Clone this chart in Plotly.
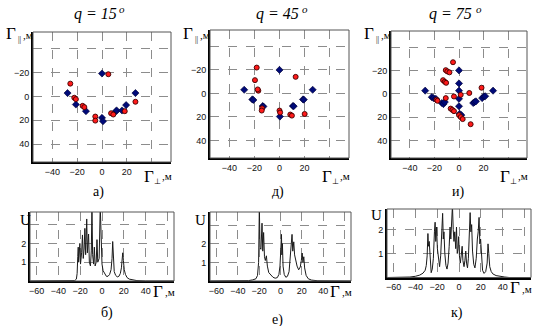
import plotly.graph_objects as go

# ---------------- data ----------------
title_main = ["q = 15", "q = 45", "q = 75"]
title_sup = "o"
top_letters = ["а)", "д)", "и)"]
bot_letters = ["б)", "е)", "к)"]

# panel a (q=15)
a_blue_x = [0, -27.7, -21, -12.9, 0, 0.8, 11.3, 11.8, 16.1, 19.4, 26.9]
a_blue_y = [-19.2, -2.8, 6.8, 12.4, 18, 20.8, 12.4, 11.8, 11.8, 7.3, -2.8]
a_red_x = [5.1, -25.5, -22.3, -21, -15.6, -14.2, -5.4, -5.4, 7.3, 9.1, 18.3, 26.9]
a_red_y = [-18.6, -10.7, 1.1, 2.3, 7.9, 9.0, 16.9, 20.3, 14.1, 15.2, 12.4, 4.5]

# panel d (q=45)
d_blue_x = [0, -28.2, -21.7, -20.9, -13.4, -12.9, 0.3, 10.7, 11.3, 18.8, 19.4, 26.5]
d_blue_y = [-20, -3.1, 5.1, 5.6, 10.7, 11.2, 19.7, 10.7, 10.9, 5.1, 5.3, -3.1]
d_red_x = [-18.2, -19.6, -16.9, -17.4, -13.9, -14.2, 0, 0.5, 8.6, 9.9, 12.9, 20.1]
d_red_y = [-22, -11.3, -2.3, -3.4, 12.7, 14.6, 14.6, 16.3, 18, 18.9, -14.1, 17.5]

# panel i (q=75)
i_blue_x = [0, 0, 0, 0, 0, -27.6, -22.2, -20.8, -18.9, -14, -12.7, -11.6,
            0.5, 1.9, 11.6, 12.7, 13.8, 18.9, 20.3, 21.4, 27.8]
i_blue_y = [-20.2, -9, -2.8, 4.2, 10.6, -2.8, 2.8, 3.6, 4.2, 7.8, 8.7, 7,
            17.1, 18.2, 7.8, 7, 6.4, 3.6, 2.2, 2, -2.8]
i_red_x = [-4.9, -10.8, -9.5, -7.8, -13, -11.6, -10.5, -4.1, -10.8, -18.4, -17.6,
           1.4, 8.4, 18.4, -6.8, -5.4, -4.1, 0, 1.4, 3, 9.5]
i_red_y = [-27.2, -20.4, -19.3, -18.5, -11.8, -10.4, -9.5, 2.2, 3.6, 5, 5.9,
           0.8, -0.8, -5.3, 12.6, 13.7, 14.8, 18.2, 19.9, 21.6, 26]

# spectrum б
b_x = [-66, -30, -25, -23.5, -22.8, -22.2, -21.8, -21.4, -20.8, -20.3, -19.7, -18.7,
       -17.9, -17.2, -16.4, -15.7, -15.0, -14.5, -14.0, -13.4, -12.8, -12.3, -11.6,
       -10.6, -9.8, -9.2, -8.6, -7.7, -7.0, -6.3, -5.3, -4.6, -3.9, -2.6, -1.6, -0.8,
       0, 1, 2.5, 4, 5.5, 7, 8.3, 9.2, 9.8, 10.4, 11.2, 12.5, 14, 15.5, 16.8, 17.8,
       18.5, 19.0, 19.6, 20.4, 21.5, 23, 25, 28, 32, 40, 66]
b_y = [0, 0, 0.02, 0.1, 0.4, 1.3, 1.8, 1.0, 1.4, 2.0, 0.9, 1.5,
       2.45, 1.2, 1.7, 2.8, 1.4, 2.0, 3.3, 1.5, 1.9, 2.5, 1.0,
       0.8, 1.6, 4.0, 1.4, 0.9, 1.8, 0.8, 1.0, 2.2, 1.0, 1.2, 4.0, 1.4,
       0.9, 0.55, 0.35, 0.25, 0.25, 0.35, 0.6, 1.2, 2.1, 1.0, 0.5, 0.3, 0.22, 0.25, 0.4, 0.7,
       1.1, 1.5, 1.1, 0.6, 0.35, 0.18, 0.1, 0.05, 0.02, 0, 0]

# spectrum е
e_x = [-66, -35, -30, -26, -23, -21.5, -20.5, -19.8, -19.2, -18.3, -17.3, -16.6, -15.8,
       -15.0, -14.2, -13.2, -12.3, -11, -9, -7, -5, -3, -1.5, -0.5, 0.3, 0.9, 1.3, 1.8,
       2.4, 3.5, 5, 6.5, 8, 9.2, 10.2, 10.8, 11.5, 12.4, 13.2, 14.3, 15.5, 17, 18.5,
       19.5, 20.3, 21, 21.8, 22.6, 24, 26, 29, 35, 66]
e_y = [0, 0, 0.02, 0.06, 0.12, 0.3, 1.0, 4.0, 1.8, 1.7, 3.1, 1.6, 2.6,
       1.3, 1.1, 1.35, 0.8, 0.45, 0.3, 0.2, 0.15, 0.18, 0.35, 0.8, 1.7, 2.5, 1.4, 2.0,
       0.8, 0.35, 0.2, 0.25, 0.5, 1.2, 2.0, 2.5, 1.6, 2.1, 1.4, 1.1, 0.8, 0.6, 0.75,
       1.1, 1.5, 1.0, 1.3, 0.7, 0.3, 0.12, 0.05, 0.01, 0]

# spectrum к
k_x = [-66, -50, -45, -40, -36, -33, -31, -30, -29.2, -28.5, -28, -27.3, -26.5, -25.5,
       -24.5, -23.5, -22.5, -21.9, -21.3, -20.6, -19.8, -18.6, -17.8, -16.8, -15.8, -15.0,
       -14.4, -13.8, -13.0, -12.0, -11.0, -10.0, -9, -8.2, -7.5, -6.8, -6.0, -5.3, -4.6,
       -3.9, -3.0, -2.3, -1.6, -0.9, -0.3, 0.4, 1.2, 2.0, 2.9, 3.6, 4.6, 5.4, 6.2, 6.9,
       7.8, 8.6, 9.5, 10.2, 10.9, 11.6, 12.4, 13.5, 14.6, 15.8, 16.8, 17.6, 18.4, 19.1,
       19.8, 20.6, 21.6, 23, 24.5, 25.8, 26.6, 27.3, 28.2, 29.5, 31, 34, 38, 42, 46, 66]
k_y = [0, 0, 0.02, 0.05, 0.1, 0.18, 0.3, 0.5, 0.9, 1.83, 1.3, 1.5, 0.6, 0.2,
       0.35, 0.8, 1.9, 2.3, 1.5, 2.1, 1.2, 0.6, 0.45, 0.9, 2.0, 2.67,
       1.6, 1.9, 1.0, 0.5, 0.35, 0.6, 1.3, 2.1, 1.6, 2.3, 3.0, 2.0, 1.5,
       1.9, 1.2, 2.1, 1.0, 1.2, 1.7, 0.9, 0.6, 0.9, 1.3, 0.7, 0.45, 0.7, 1.1, 0.6,
       0.4, 0.8, 1.8, 2.7, 1.9, 2.2, 1.1, 0.55, 0.4, 0.8, 1.6, 1.9, 2.5, 1.4,
       1.6, 0.7, 0.3, 0.17, 0.25, 0.6, 1.4, 1.0, 0.45, 0.25, 0.15, 0.08, 0.04, 0.02, 0, 0]

sc_grid = [-40, -20, 0, 20, 40]
sc_xlabels = [-40, -20, 0, 20]
sc_ylabels = [-20, 0, 20, 40]
sp_grid = [-60, -40, -20, 0, 20, 40, 60]
sp_xlabels = [-60, -40, -20, 0, 20, 40]
sp_ylabels = [1, 2]

# ---------------- layout geometry (pixels) ----------------
W, H = 535, 326
def px(x):
    return x / W
def py(y):
    return 1 - y / H

top_boxes = [(33, 32, 171, 162), (210, 30, 349, 158), (391, 31, 527, 158)]
bot_boxes = [(30, 212, 174, 281), (210, 212, 351, 281), (387, 209, 531, 277.5)]
bot_yr = [3.67, 3.7, 2.85]
title_cx = [95, 277.5, 450.5]
sup_cx = [122, 305, 479]
top_letter_cx = [98, 278, 458]
bot_letter_pos = [(106.7, 313), (277.7, 320), (456.7, 313)]
u_pos = [(25, 220), (200, 220), (376, 215)]

fig = go.Figure()
font_tick = dict(family="Liberation Sans, Arial", size=9, color="#111")
GRIDC = "#8c8c8c"
serif = "Liberation Serif, Times New Roman"

def grid_minor(vals):
    return dict(tickvals=vals, showgrid=True, gridcolor=GRIDC, griddash="dash",
                gridwidth=1, ticks="")

annotations = []
def txt(s, x, y, size, italic=False):
    f = dict(family=serif, size=size, color="black")
    if italic:
        f["style"] = "italic"
    annotations.append(dict(text=s, x=px(x), y=py(y), xref="paper", yref="paper",
                            xanchor="center", yanchor="middle", showarrow=False,
                            borderpad=0, font=f))

scatter_sets = [(a_blue_x, a_blue_y, a_red_x, a_red_y),
                (d_blue_x, d_blue_y, d_red_x, d_red_y),
                (i_blue_x, i_blue_y, i_red_x, i_red_y)]
spectra = [(b_x, b_y), (e_x, e_y), (k_x, k_y)]

layout = {}
shapes = []
for i in range(3):
    # top scatter
    n = 2 * i + 1
    xa, ya = (f"x{n}", f"y{n}") if n > 1 else ("x", "y")
    l, t, r, b = top_boxes[i]
    bx, by, rx, ry = scatter_sets[i]
    fig.add_trace(go.Scatter(x=bx, y=by, mode="markers", xaxis=xa, yaxis=ya,
                             marker=dict(symbol="diamond", size=5.5, color="#000a78",
                                         line=dict(color="#000030", width=0.6)),
                             showlegend=False))
    fig.add_trace(go.Scatter(x=rx, y=ry, mode="markers", xaxis=xa, yaxis=ya,
                             marker=dict(symbol="circle", size=5, color="#ff1a1a",
                                         line=dict(color="#400000", width=0.9)),
                             showlegend=False))
    layout[f"xaxis{n}" if n > 1 else "xaxis"] = dict(
        domain=[px(l), px(r)], anchor=ya, range=[-55.5, 55.5], tickvals=sc_xlabels,
        tickfont=font_tick, showline=True, linecolor="black", showgrid=False,
        linewidth=2, ticks="", zeroline=False, minor=grid_minor(sc_grid), fixedrange=True)
    layout[f"yaxis{n}" if n > 1 else "yaxis"] = dict(
        domain=[py(b), py(t)], anchor=xa, range=[55, -54], tickvals=sc_ylabels,
        tickfont=font_tick, showline=True, linecolor="black", showgrid=False,
        linewidth=2, ticks="", zeroline=False, minor=grid_minor(sc_grid), fixedrange=True)
    shapes.append(dict(type="rect", xref="paper", yref="paper",
                       x0=px(l), x1=px(r), y0=py(b), y1=py(t),
                       line=dict(color="#555", width=1), layer="above"))
    # title
    txt(title_main[i], title_cx[i], 14, 16, italic=True)
    txt(title_sup, sup_cx[i], 9, 11, italic=True)
    # r_parallel label
    txt("Γ", l - 22, 34, 17)
    txt("||", l - 14, 40, 8)
    txt(",м", l - 5, 35, 11)
    # r_perp label
    txt("Γ", r - 22, 176.5, 17)
    txt("⊥", r - 14, 181, 8)
    txt(",м", r - 4, 176, 11)
    txt(top_letters[i], top_letter_cx[i], 192, 14)

    # bottom spectrum
    n2 = 2 * i + 2
    xa2, ya2 = f"x{n2}", f"y{n2}"
    l, t, r, b = bot_boxes[i]
    sx, sy = spectra[i]
    fig.add_trace(go.Scatter(x=sx, y=sy, mode="lines", xaxis=xa2, yaxis=ya2,
                             line=dict(color="#1a1a1a", width=1), showlegend=False))
    layout[f"xaxis{n2}"] = dict(
        domain=[px(l), px(r)], anchor=ya2, range=[-66, 66], tickvals=sp_xlabels,
        tickfont=font_tick, showline=True, linecolor="black", showgrid=False,
        linewidth=2, ticks="", zeroline=False, minor=grid_minor(sp_grid), fixedrange=True)
    ygrid = [1, 2, 3] if bot_yr[i] > 3 else [1, 2]
    layout[f"yaxis{n2}"] = dict(
        domain=[py(b), py(t)], anchor=xa2, range=[0, bot_yr[i]], tickvals=sp_ylabels,
        tickfont=font_tick, showline=True, linecolor="black", showgrid=False,
        linewidth=2, ticks="", zeroline=False, minor=grid_minor(ygrid), fixedrange=True)
    shapes.append(dict(type="rect", xref="paper", yref="paper",
                       x0=px(l), x1=px(r), y0=py(b), y1=py(t),
                       line=dict(color="#555", width=1), layer="above"))
    txt("U", u_pos[i][0], u_pos[i][1], 15)
    txt("Γ", r - 16, b + 10, 17)
    txt(",м", r - 4, b + 11, 11)
    txt(bot_letters[i], bot_letter_pos[i][0], bot_letter_pos[i][1], 14)

fig.update_layout(width=W, height=H, margin=dict(l=0, r=0, t=0, b=0),
                  paper_bgcolor="white", plot_bgcolor="white",
                  shapes=shapes, annotations=annotations, **layout)
fig.write_html("out.html", config={"displayModeBar": False})
